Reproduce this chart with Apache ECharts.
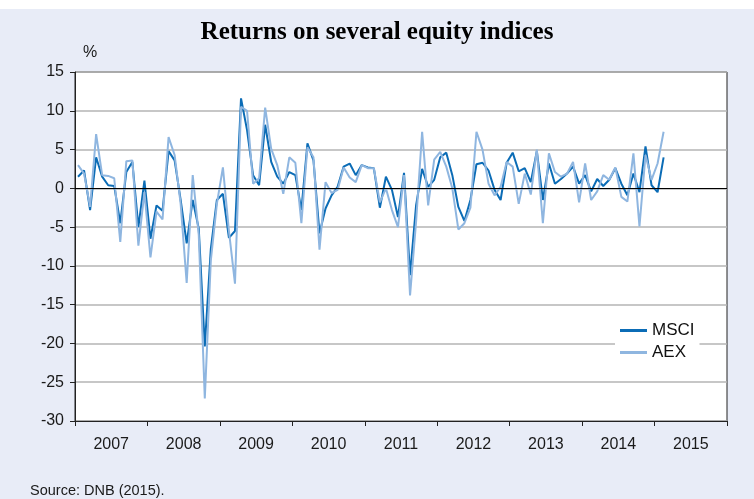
<!DOCTYPE html>
<html>
<head>
<meta charset="utf-8">
<script src="https://cdn.jsdelivr.net/npm/echarts@6/dist/echarts.min.js"></script>
<style>
html,body{margin:0;padding:0;background:#fff;}
#wrap{position:absolute;left:0;top:9px;width:754px;height:490px;background:#e8ecf7;}
#chart{position:absolute;left:0;top:0;width:754px;height:499px;}
</style>
</head>
<body>
<div id="wrap"></div>
<div id="chart"></div>
<script>
// Monthly returns (%), Jan 2007 .. Feb 2015
const startYear = 2007;
const years = ['2007','2008','2009','2010','2011','2012','2013','2014','2015'];
const yTicks = [-30,-25,-20,-15,-10,-5,0,5,10,15];
const msci = [1.5,2.3,-2.8,4.0,1.5,0.4,0.3,-4.5,2.1,3.4,-5.0,1.0,
  -6.5,-2.2,-2.9,4.8,3.6,-1.5,-7.1,-1.5,-5.2,-20.4,-7.8,-1.5,
  -0.7,-6.4,-5.5,11.6,7.5,1.7,0.4,8.2,3.4,1.5,0.6,2.1,
  1.7,-2.8,5.8,3.6,-5.8,-2.6,-0.9,0.2,2.8,3.2,1.7,3.0,
  2.7,2.6,-2.5,1.5,-0.2,-3.7,2.0,-11.2,-2.2,2.5,0.2,1.1,
  4.0,4.6,1.7,-2.4,-4.2,-1.5,3.1,3.3,2.3,-0.2,-1.5,3.3,
  4.6,2.2,2.6,0.8,4.8,-1.5,3.2,0.6,1.2,1.9,2.8,0.6,
  1.7,-0.4,1.2,0.3,1.1,2.6,0.6,-0.9,1.9,-0.5,5.4,0.4,
  -0.5,4.0];
const aex = [3.0,1.9,-2.4,7.0,1.7,1.6,1.3,-6.9,3.5,3.6,-7.4,-0.5,
  -8.9,-3.0,-4.0,6.6,4.3,-2.0,-12.2,1.7,-6.0,-27.1,-9.3,-2.0,
  2.7,-5.5,-12.3,10.5,10.0,0.6,1.3,10.4,5.1,3.0,-0.7,4.0,
  3.3,-4.5,5.3,4.0,-7.9,0.8,-0.6,-0.2,2.7,1.4,0.8,3.0,
  2.6,2.6,-1.8,0.0,-2.8,-5.0,1.7,-13.8,-4.3,7.3,-2.2,3.7,
  4.7,2.8,0.0,-5.3,-4.5,-2.5,7.3,5.0,0.6,-0.9,0.2,3.4,
  2.8,-2.0,1.9,-0.8,5.0,-4.5,4.5,2.1,1.5,1.9,3.4,-1.8,
  3.2,-1.5,-0.4,1.7,1.1,2.7,-1.1,-1.7,4.5,-4.9,4.3,1.1,
  3.2,7.3];

const toPts = arr => arr.map((v,i)=>[startYear + (i+0.5)/12, v]);

const chart = echarts.init(document.getElementById('chart'), null, {renderer:'canvas'});
const font = 'Liberation Sans, Arial, sans-serif';
chart.setOption({
  backgroundColor: 'transparent',
  animation: false,
  title: {
    text: 'Returns on several equity indices',
    left: 'center', top: 15,
    textStyle: {fontFamily: 'Liberation Serif, Times New Roman, serif', fontWeight: 'bold', fontSize: 25, color: '#000'}
  },
  graphic: [
    {type:'text', left: 83, top: 45, style:{text:'%', font:'16px Liberation Sans, Arial', fill:'#1a1a1a'}},
    {type:'text', left: 30, top: 483, style:{text:'Source: DNB (2015).', font:'14.5px Liberation Sans, Arial', fill:'#1a1a1a'}}
  ],
  legend: {
    orient: 'vertical', left: 615, top: 318,
    backgroundColor: '#fff', padding: [4, 5, 4, 5], itemGap: 5,
    itemWidth: 27, itemHeight: 3, icon: 'rect',
    textStyle: {fontFamily: font, fontSize: 17, color: '#111'},
    data: ['MSCI','AEX']
  },
  grid: {left: 75, right: 27, top: 72, bottom: 78, show: true, backgroundColor: '#fff', borderColor: '#222', borderWidth: 1, containLabel: false},
  xAxis: [
    {type: 'value', min: 2007, max: 2016, show: false},
    {type: 'category', data: years, position: 'bottom', boundaryGap: true,
     axisLine: {show: true, lineStyle: {color: '#222', width: 1}},
     axisTick: {show: true, inside: false, length: 5, alignWithLabel: false, lineStyle: {color: '#222'}},
     axisLabel: {fontFamily: font, fontSize: 16, color: '#1a1a1a', margin: 16},
     splitLine: {show: false}}
  ],
  yAxis: {
    type: 'value', min: yTicks[0], max: yTicks[yTicks.length-1], interval: 5,
    axisLine: {show: true, lineStyle: {color: '#222', width: 1}},
    axisTick: {show: true, length: 5, lineStyle: {color: '#222'}},
    axisLabel: {fontFamily: font, fontSize: 16, color: '#1a1a1a', margin: 11},
    splitLine: {show: true, lineStyle: {color: '#b4b4b4', width: 1.5}}
  },
  series: [
    {name: 'MSCI', type: 'line', xAxisIndex: 0, data: toPts(msci), symbol: 'none',
     lineStyle: {color: '#0b6cb6', width: 2}, itemStyle: {color: '#0b6cb6'},
     markLine: {silent: true, symbol: 'none', label: {show: false},
       lineStyle: {color: '#000', width: 1.2, type: 'solid'}, data: [{yAxis: 0}]}},
    {name: 'AEX', type: 'line', xAxisIndex: 0, data: toPts(aex), symbol: 'none',
     lineStyle: {color: '#8fb6e0', width: 2}, itemStyle: {color: '#8fb6e0'}}
  ]
});
</script>
</body>
</html>
